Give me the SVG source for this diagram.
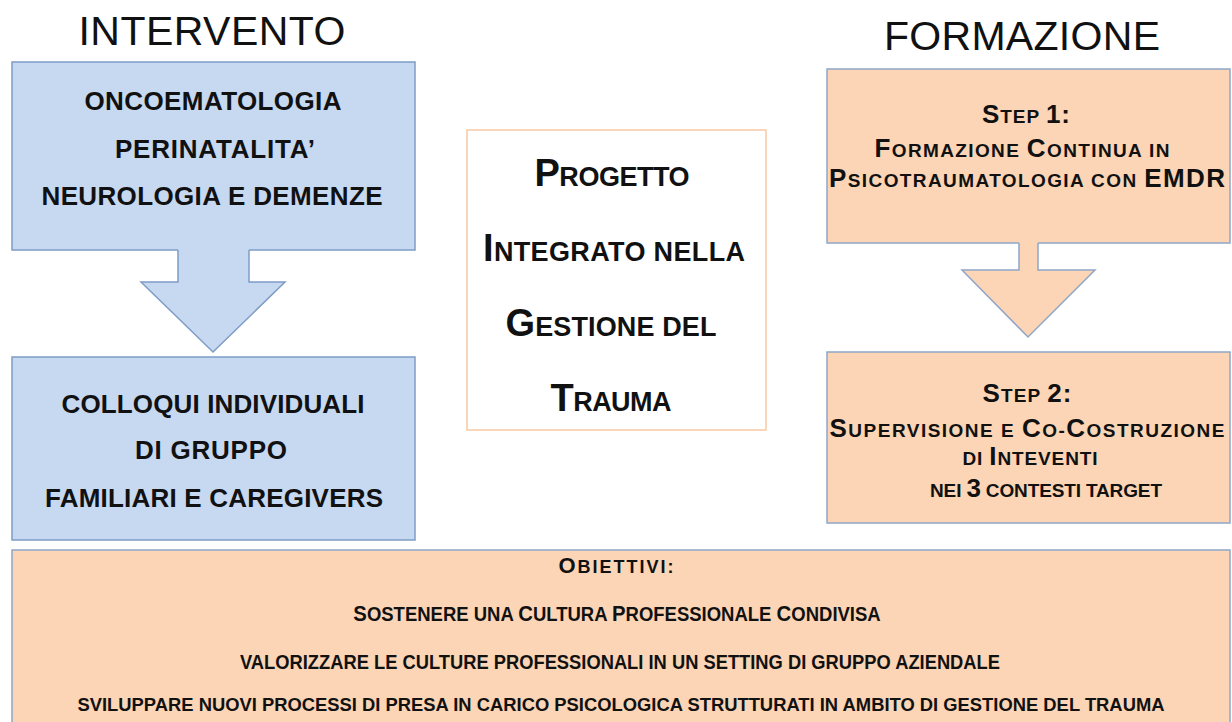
<svg xmlns="http://www.w3.org/2000/svg" width="1232" height="722" viewBox="0 0 1232 722">
<style>
.title{font-family:"Liberation Sans",Arial,sans-serif;font-size:41px;fill:#111;text-anchor:middle}
.blue{fill:#c6d9f1;stroke:#7f9cc6;stroke-width:1.5}
.orange{fill:#fbd5b5;stroke:#8fa6c8;stroke-width:1.5}
.center{fill:#fff;stroke:#f8c9a2;stroke-width:1.5}
.t{font-family:"Liberation Sans",Arial,sans-serif;font-weight:bold;fill:#111;text-anchor:middle}
.afill{stroke:none}
.aline{fill:none;stroke-width:1.5}
</style>
<rect width="1232" height="722" fill="#fff"/>

<g id="title-intervento"><text class="title" x="212" y="45" textLength="267">INTERVENTO</text></g>
<g id="title-formazione"><text class="title" x="1022" y="50" textLength="276">FORMAZIONE</text></g>

<g id="box-ambiti">
<rect class="blue" x="12" y="62" width="403" height="188"/>
<text class="t" font-size="26" x="213" y="110" textLength="257">ONCOEMATOLOGIA</text>
<text class="t" font-size="26" x="215" y="158" textLength="200">PERINATALITA’</text>
<text class="t" font-size="26" x="212" y="205" textLength="341">NEUROLOGIA E DEMENZE</text>
</g>

<g id="box-colloqui">
<rect class="blue" x="12" y="357" width="403" height="183"/>
<text class="t" font-size="26" x="213" y="413" textLength="303">COLLOQUI INDIVIDUALI</text>
<text class="t" font-size="26" x="211" y="459" textLength="152">DI GRUPPO</text>
<text class="t" font-size="26" x="214" y="507" textLength="338">FAMILIARI E CAREGIVERS</text>
</g>

<g id="box-progetto">
<rect class="center" x="467" y="130" width="299" height="300"/>
<text class="t" x="612" y="186" textLength="155"><tspan font-size="38">P</tspan><tspan font-size="27">ROGETTO</tspan></text>
<text class="t" x="614" y="261" textLength="262"><tspan font-size="38">I</tspan><tspan font-size="27">NTEGRATO NELLA</tspan></text>
<text class="t" x="611" y="336" textLength="211"><tspan font-size="38">G</tspan><tspan font-size="27">ESTIONE DEL</tspan></text>
<text class="t" x="611" y="411" textLength="121"><tspan font-size="38">T</tspan><tspan font-size="27">RAUMA</tspan></text>
</g>

<g id="box-step1">
<rect class="orange" x="827" y="69" width="403" height="174"/>
<text class="t" x="1026" y="123" textLength="88"><tspan font-size="26">S</tspan><tspan font-size="19">TEP </tspan><tspan font-size="26">1:</tspan></text>
<text class="t" x="1022" y="157" textLength="295"><tspan font-size="26">F</tspan><tspan font-size="19">ORMAZIONE </tspan><tspan font-size="26">C</tspan><tspan font-size="19">ONTINUA IN</tspan></text>
<text class="t" x="1027" y="187" textLength="396"><tspan font-size="26">P</tspan><tspan font-size="19">SICOTRAUMATOLOGIA CON </tspan><tspan font-size="26">EMDR</tspan></text>
</g>

<g id="box-step2">
<rect class="orange" x="827" y="352" width="403" height="171"/>
<text class="t" x="1027" y="402" textLength="89"><tspan font-size="26">S</tspan><tspan font-size="19">TEP </tspan><tspan font-size="26">2:</tspan></text>
<text class="t" x="1027" y="437" textLength="395"><tspan font-size="26">S</tspan><tspan font-size="19">UPERVISIONE E </tspan><tspan font-size="26">C</tspan><tspan font-size="19">O-</tspan><tspan font-size="26">C</tspan><tspan font-size="19">OSTRUZIONE</tspan></text>
<text class="t" x="1030" y="465" textLength="135"><tspan font-size="19">DI </tspan><tspan font-size="26">I</tspan><tspan font-size="19">NTEVENTI</tspan></text>
<text class="t" x="1046" y="497" textLength="232"><tspan font-size="19">NEI </tspan><tspan font-size="26">3</tspan><tspan font-size="19"> CONTESTI TARGET</tspan></text>
</g>

<g id="box-obiettivi">
<rect class="orange" x="12" y="550" width="1218" height="180"/>
<text class="t" x="616" y="573" textLength="115"><tspan font-size="22">O</tspan><tspan font-size="18">BIETTIVI:</tspan></text>
<text class="t" transform="translate(617,621) scale(0.925,1)" x="0" y="0"><tspan font-size="22">S</tspan><tspan font-size="20">OSTENERE UNA </tspan><tspan font-size="22">C</tspan><tspan font-size="20">ULTURA </tspan><tspan font-size="22">P</tspan><tspan font-size="20">ROFESSIONALE </tspan><tspan font-size="22">C</tspan><tspan font-size="20">ONDIVISA</tspan></text>
<text class="t" font-size="21" x="620" y="669" textLength="760" lengthAdjust="spacingAndGlyphs">VALORIZZARE LE CULTURE PROFESSIONALI IN UN SETTING DI GRUPPO AZIENDALE</text>
<text class="t" font-size="19" x="621" y="711" textLength="1087" lengthAdjust="spacingAndGlyphs">SVILUPPARE NUOVI PROCESSI DI PRESA IN CARICO PSICOLOGICA STRUTTURATI IN AMBITO DI GESTIONE DEL TRAUMA</text>
</g>

<g id="connectors">
<polygon class="afill" fill="#c6d9f1" points="178,248 249,248 249,282 285,282 213,352 141,282 178,282"/>
<polyline class="aline" stroke="#7f9cc6" points="178,250 178,282 141,282 213,352 285,282 249,282 249,250"/>
<polygon class="afill" fill="#fbd5b5" points="1019,241 1038,241 1038,270 1095,270 1028,337 962,270 1019,270"/>
<polyline class="aline" stroke="#8fa6c8" points="1019,243 1019,270 962,270 1028,337 1095,270 1038,270 1038,243"/>
</g>
</svg>
